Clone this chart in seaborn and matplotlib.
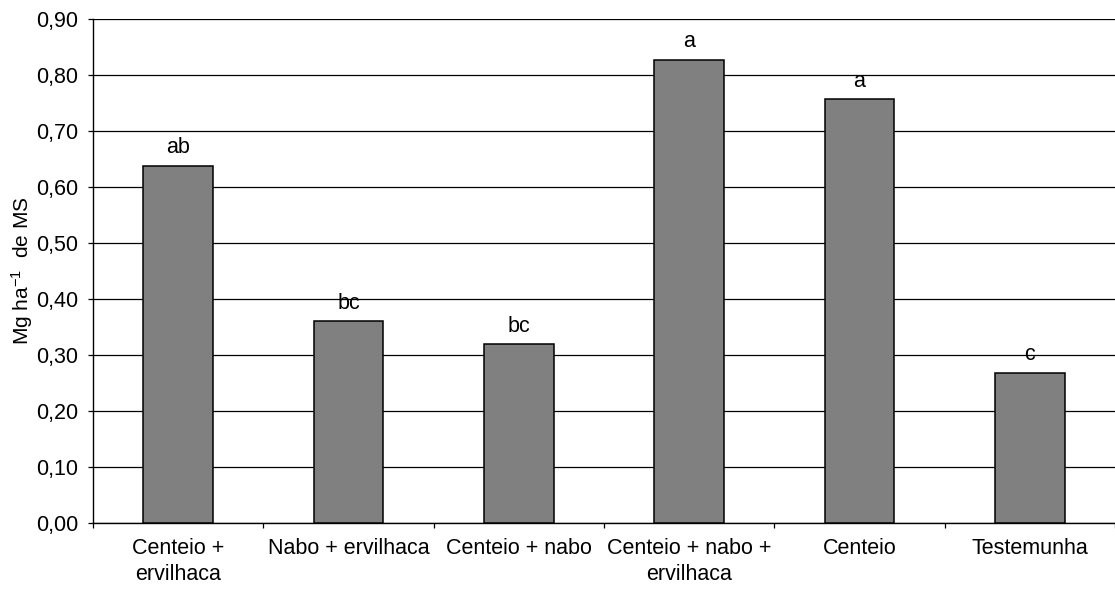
import numpy as np
import pandas as pd
import matplotlib
matplotlib.use("Agg")
import matplotlib.pyplot as plt
import seaborn as sns

# dados
tratamentos = ["Centeio +\nervilhaca", "Nabo + ervilhaca", "Centeio + nabo",
               "Centeio + nabo +\nervilhaca", "Centeio", "Testemunha"]
massa_seca = [0.638, 0.36, 0.319, 0.827, 0.757, 0.268]
letras = ["ab", "bc", "bc", "a", "a", "c"]
yticks = [0.0, 0.1, 0.2, 0.3, 0.4, 0.5, 0.6, 0.7, 0.8, 0.9]

df = pd.DataFrame({"trat": tratamentos, "ms": massa_seca})

sns.set_theme(style="white")
plt.rcParams["font.family"] = ["Liberation Sans", "DejaVu Sans"]
plt.rcParams["mathtext.default"] = "regular"

fig = plt.figure(figsize=(11.15, 5.89), dpi=100)
ax = fig.add_axes([0.0834, 0.1120, 0.9166, 0.8557])

sns.barplot(data=df, x="trat", y="ms", color="#808080", width=0.41,
            edgecolor="black", linewidth=1.1, saturation=1, ax=ax, zorder=3)

for i, (v, l) in enumerate(zip(massa_seca, letras)):
    ax.annotate(l, (i, v), xytext=(0, 9), textcoords="offset points",
                ha="center", va="baseline", fontsize=15.5, color="black")

ax.set_ylim(0, 0.9)
ax.set_xlim(-0.5, len(tratamentos) - 0.5)
ax.set_yticks(yticks)
ax.set_yticklabels([f"{t:.2f}".replace(".", ",") for t in yticks])
ax.yaxis.grid(True, color="black", linewidth=0.9, zorder=0)
ax.set_axisbelow(True)

# ticks de separacao entre categorias
ax.set_xticks(np.arange(-0.5, len(tratamentos), 1), minor=True)
ax.tick_params(axis="x", which="major", length=0, pad=11, labelsize=15.5, colors="black")
ax.tick_params(axis="x", which="minor", length=3.6, width=0.9, color="black", direction="out", bottom=True)
ax.tick_params(axis="y", length=3.6, width=0.9, color="black", direction="out", left=True,
               pad=7, labelsize=15.5, labelcolor="black")
for t in ax.get_xticklabels():
    t.set_linespacing(1.3)

for s in ["top", "right"]:
    ax.spines[s].set_visible(False)
for s in ["left", "bottom"]:
    ax.spines[s].set_color("black")
    ax.spines[s].set_linewidth(1.0)

ax.set_xlabel("")
ax.set_ylabel("Mg ha$^{-1}$  de MS", fontsize=15, color="black", labelpad=1)

fig.savefig("out.png", dpi=100)
